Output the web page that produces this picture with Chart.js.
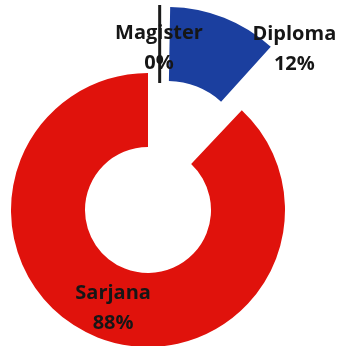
<!DOCTYPE html>
<html>
<head>
<meta charset="utf-8">
<script src="https://cdn.jsdelivr.net/npm/chart.js@4.4.1/dist/chart.umd.min.js"></script>
<style>
  html, body { margin: 0; padding: 0; background: #fff; }
</style>
</head>
<body>
<canvas id="pendidikanChart" width="339" height="346"></canvas>
<script>
const labels = ['Diploma', 'Sarjana', 'Magister'];
const values = [12, 88, 0];
const percentLabels = ['12%', '88%', '0%'];
const colors = ['#1b3f9f', '#e0120c', '#1a1a1a'];

// where each label sits: angle clockwise from 12 o'clock, distance from centre
const labelPlacement = [
    { deg: 42.4, dist: 217 },
    { deg: 199.6, dist: 104 },
    { deg: 3.9, dist: 162 }
];

const sliceLabels = {
    id: 'sliceLabels',
    afterDatasetsDraw(chart) {
        const ctx = chart.ctx;
        const arcs = chart.getDatasetMeta(0).data;

        // zero-value slice (Magister) is drawn as a thin exploded line
        const m = arcs[2];
        const a = m.startAngle;
        const shiftA = a + 0.17, shiftD = 69;
        const sx = Math.cos(shiftA) * shiftD, sy = Math.sin(shiftA) * shiftD;
        ctx.save();
        ctx.strokeStyle = colors[2];
        ctx.lineWidth = 3;
        ctx.beginPath();
        ctx.moveTo(m.x + sx + Math.cos(a) * (m.innerRadius - 4), m.y + sy + Math.sin(a) * (m.innerRadius - 4));
        ctx.lineTo(m.x + sx + Math.cos(a) * m.outerRadius, m.y + sy + Math.sin(a) * m.outerRadius);
        ctx.stroke();

        ctx.font = 'bold 20px "Open Sans"';
        ctx.fillStyle = '#161616';
        ctx.textAlign = 'center';
        ctx.textBaseline = 'middle';
        arcs.forEach((arc, i) => {
            const p = labelPlacement[i];
            const ang = (p.deg - 90) * Math.PI / 180;
            const x = arc.x + Math.cos(ang) * p.dist;
            const y = arc.y + Math.sin(ang) * p.dist;
            ctx.fillText(labels[i], x, y - 15);
            ctx.fillText(percentLabels[i], x, y + 15);
        });
        ctx.restore();
    }
};

const ctx = document.getElementById('pendidikanChart').getContext('2d');
const chart = new Chart(ctx, {
    type: 'doughnut',
    data: {
        labels: labels,
        datasets: [{
            data: values,
            backgroundColor: colors,
            borderWidth: 0,
            offset: [212, 0, 0]
        }]
    },
    options: {
        responsive: false,
        animation: false,
        events: [],
        radius: 137,
        cutout: '46%',
        layout: {
            padding: { left: 0, right: 43, top: 74, bottom: 0 }
        },
        plugins: {
            legend: { display: false },
            tooltip: { enabled: false }
        }
    },
    plugins: [sliceLabels]
});
</script>
</body>
</html>
